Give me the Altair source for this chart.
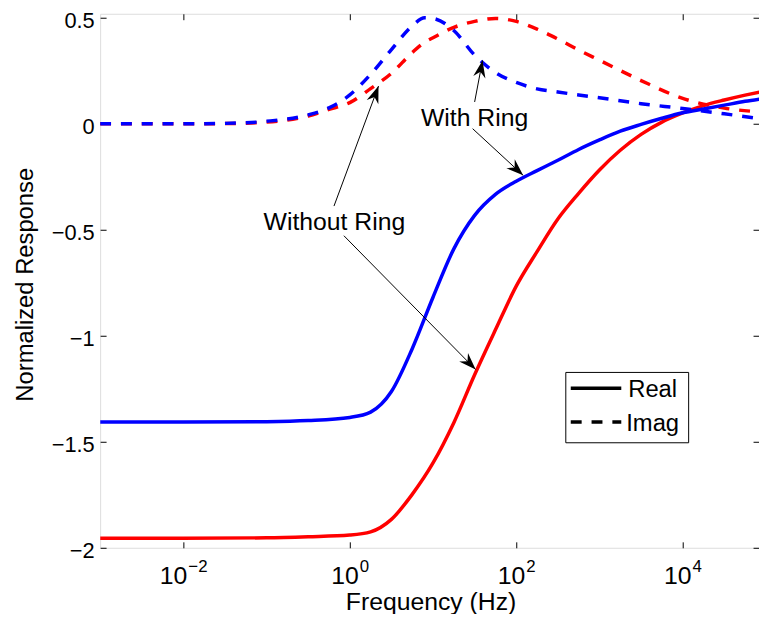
import math
import altair as alt
import pandas as pd

FONT = "Liberation Sans"

# ---------------- data ----------------
# real parts (solid lines)
real_freq_exp = [-3, -2, -1, -0.5, 0, 0.25, 0.5, 0.75, 1.0, 1.25, 1.5, 1.75, 2.0,
                 2.25, 2.5, 2.75, 3.0, 3.25, 3.5, 3.75, 4.0, 4.25, 4.5, 4.75, 4.93]
real_without_ring = [-1.955, -1.955, -1.953, -1.948, -1.940, -1.925, -1.866, -1.748,
                     -1.600, -1.410, -1.184, -0.972, -0.766, -0.603, -0.449, -0.328,
                     -0.218, -0.125, -0.050, 0.008, 0.051, 0.086, 0.112, 0.135, 0.150]
real_with_ring = [-1.407, -1.407, -1.405, -1.400, -1.385, -1.360, -1.263, -1.061,
                  -0.818, -0.590, -0.432, -0.333, -0.271, -0.221, -0.172, -0.121,
                  -0.076, -0.035, -0.003, 0.026, 0.052, 0.070, 0.088, 0.106, 0.117]

# imaginary parts (dashed lines)
imag_freq_exp = [-3, -2, -1.5, -1, -0.5, -0.25, 0, 0.25, 0.5, 0.75, 0.9, 1.0, 1.25,
                 1.5, 1.75, 2.0, 2.25, 2.5, 2.75, 3.0, 3.5, 4.0, 4.5, 4.93]
imag_without_ring = [0.000, 0.000, 0.001, 0.008, 0.037, 0.068, 0.100, 0.166, 0.238,
                     0.336, 0.385, 0.406, 0.455, 0.483, 0.497, 0.483, 0.447, 0.400,
                     0.348, 0.300, 0.204, 0.120, 0.074, 0.056]
imag_with_ring = [0.000, 0.000, 0.002, 0.012, 0.042, 0.075, 0.136, 0.233, 0.350,
                  0.462, 0.500, 0.497, 0.440, 0.324, 0.242, 0.195, 0.165, 0.150,
                  0.136, 0.123, 0.095, 0.072, 0.047, 0.024]

# axes
x_min, x_max = 1e-3, 10 ** 4.917
y_min, y_max = -2.0, 0.519
xtick_exp = [-2, 0, 2, 4]
ytick_vals = [-2, -1.5, -1, -0.5, 0, 0.5]

# annotations
ann_text = ["Without Ring", "With Ring"]
ann_freq_exp = [-0.185, 1.5]
ann_value = [-0.5, -0.009]
arrow_tail_exp = [1.5, 1.476, -0.190, -0.071]
arrow_tail_val = [0.103, -0.023, -0.388, -0.528]
arrow_tip_exp = [1.595, 2.083, 0.345, 1.512]
arrow_tip_val = [0.299, -0.243, 0.178, -1.159]

legend_labels = ["Real", "Imag"]

# ---------------- layout ----------------
W, H = 665, 539
ppd = W / (math.log10(x_max) - math.log10(x_min))
ppu = H / (y_max - y_min)

xscale = alt.Scale(type="log", domain=[x_min, x_max], nice=False)
yscale = alt.Scale(domain=[y_min, y_max], nice=False, zero=False)

axis_bottom = alt.Axis(orient="bottom", offset=-6, tickSize=6, tickColor="black", tickWidth=1,
                       labels=False, domain=False, grid=False, values=[10 ** e for e in xtick_exp],
                       title="Frequency (Hz)", titleFont=FONT, titleFontSize=25,
                       titleFontWeight="normal", titleColor="black", titleX=333.5, titleY=68.7,
                       titleAlign="center", titleBaseline="alphabetic")
axis_top = alt.Axis(orient="top", offset=-6, tickSize=6, tickColor="black", tickWidth=1,
                    labels=False, domain=False, grid=False, values=[10 ** e for e in xtick_exp],
                    title=None)
axis_left = alt.Axis(orient="left", offset=-6, tickSize=6, tickColor="black", tickWidth=1,
                     values=ytick_vals, format="~g", labelFont=FONT, labelFontSize=22,
                     labelColor="black", labelPadding=6, labelBaseline="alphabetic",
                     labelOffset=10, labelAlign="right", domain=False, grid=False,
                     title="Normalized Response", titleFont=FONT, titleFontSize=24,
                     titleFontWeight="normal", titleColor="black", titleX=-74, titleY=273,
                     titleAngle=270, titleAlign="center", titleBaseline="alphabetic")
axis_right = alt.Axis(orient="right", offset=-6, tickSize=6, tickColor="black", tickWidth=1,
                      labels=False, domain=False, grid=False, values=ytick_vals, title=None)


def line_layer(freq_exp, vals, color, dashed, ax_x=None, ax_y=None):
    df = pd.DataFrame({"f": [10 ** e for e in freq_exp], "v": vals})
    kw = dict(color=color, strokeWidth=3.5, interpolate="monotone", clip=True)
    if dashed:
        kw["strokeDash"] = [11, 10]
    return alt.Chart(df).mark_line(**kw).encode(
        x=alt.X("f:Q", scale=xscale, axis=ax_x),
        y=alt.Y("v:Q", scale=yscale, axis=ax_y),
    )


red_real = line_layer(real_freq_exp, real_without_ring, "#ff0000", False, axis_bottom, axis_left)
red_imag = line_layer(imag_freq_exp, imag_without_ring, "#ff0000", True, axis_top, axis_right)
blue_real = line_layer(real_freq_exp, real_with_ring, "#0000ff", False)
blue_imag = line_layer(imag_freq_exp, imag_with_ring, "#0000ff", True)

# arrows
arr = pd.DataFrame({
    "tf": [10 ** e for e in arrow_tail_exp], "tv": arrow_tail_val,
    "hf": [10 ** e for e in arrow_tip_exp], "hv": arrow_tip_val,
})
arr["angle"] = [
    math.degrees(math.atan2((he - te) * ppd, (hv - tv) * ppu)) % 360
    for te, tv, he, hv in zip(arrow_tail_exp, arrow_tail_val, arrow_tip_exp, arrow_tip_val)
]
arrow_lines = alt.Chart(arr).mark_rule(color="black", strokeWidth=1).encode(
    x=alt.X("tf:Q", scale=xscale, axis=None), y=alt.Y("tv:Q", scale=yscale, axis=None),
    x2="hf:Q", y2="hv:Q",
)
ARROW_PATH = "M0,0L0.72,2L0,1.35L-0.72,2Z"
arrow_heads = alt.Chart(arr).mark_point(shape=ARROW_PATH, filled=True, color="black",
                                        size=300, opacity=1, strokeWidth=0).encode(
    x=alt.X("hf:Q", scale=xscale, axis=None), y=alt.Y("hv:Q", scale=yscale, axis=None),
    angle=alt.Angle("angle:Q", scale=None),
)

ann = pd.DataFrame({"t": ann_text, "f": [10 ** e for e in ann_freq_exp], "v": ann_value})
ann_layer = alt.Chart(ann).mark_text(font=FONT, fontSize=25, color="black", align="center",
                                     baseline="alphabetic").encode(
    x=alt.X("f:Q", scale=xscale, axis=None), y=alt.Y("v:Q", scale=yscale, axis=None), text="t:N",
)

# x tick labels 10^k
xt = pd.DataFrame({
    "f": [10 ** e for e in xtick_exp],
    "base": ["10"] * len(xtick_exp),
    "exp": [str(e).replace("-", "\u2212") for e in xtick_exp],
    "neg": [e < 0 for e in xtick_exp],
})


def tick_text(filt, field, align, dx, y, size):
    return alt.Chart(xt).transform_filter(filt).mark_text(
        font=FONT, fontSize=size, color="black", align=align, baseline="alphabetic", dx=dx
    ).encode(x=alt.X("f:Q", scale=xscale, axis=None), y=alt.value(y), text=f"{field}:N")


xt_layers = [
    tick_text("!datum.neg", "base", "right", 9, 575.5, 25),
    tick_text("!datum.neg", "exp", "left", 10, 563.5, 17),
    tick_text("datum.neg", "base", "right", 4, 575.5, 25),
    tick_text("datum.neg", "exp", "left", 5, 563.5, 17),
]

# legend (drawn by hand, MATLAB style)
one = pd.DataFrame({"k": [0]})
leg_box = alt.Chart(one).mark_rect(fill="white", stroke="black", strokeWidth=1).encode(
    x=alt.value(470), x2=alt.value(594), y=alt.value(362), y2=alt.value(433))
leg_real_line = alt.Chart(one).mark_rule(color="black", strokeWidth=3.5).encode(
    x=alt.value(475), x2=alt.value(526), y=alt.value(378))
leg_imag_line = alt.Chart(one).mark_rule(color="black", strokeWidth=3.5, strokeDash=[11, 10]).encode(
    x=alt.value(475), x2=alt.value(526), y=alt.value(412))
leg_df = pd.DataFrame({"lab": legend_labels})
leg_real_txt = alt.Chart(leg_df).transform_filter("datum.lab == 'Real'").mark_text(
    font=FONT, fontSize=24, color="black", align="left", baseline="alphabetic").encode(
    x=alt.value(533), y=alt.value(386.7), text="lab:N")
leg_imag_txt = alt.Chart(leg_df).transform_filter("datum.lab == 'Imag'").mark_text(
    font=FONT, fontSize=24, color="black", align="left", baseline="alphabetic").encode(
    x=alt.value(531), y=alt.value(420.7), text="lab:N")

chart = alt.layer(
    red_real, red_imag, blue_real, blue_imag,
    arrow_lines, arrow_heads, ann_layer,
    *xt_layers,
    leg_box, leg_real_line, leg_imag_line, leg_real_txt, leg_imag_txt,
).resolve_axis(x="independent", y="independent").properties(
    width=W, height=H,
    padding={"left": 93, "top": 3, "right": 0, "bottom": 64},
    autosize=alt.AutoSizeParams(type="none"),
).configure_view(stroke="black", strokeWidth=1).configure(background="white")

chart.save("out.html", embed_options={"renderer": "svg", "actions": False})
